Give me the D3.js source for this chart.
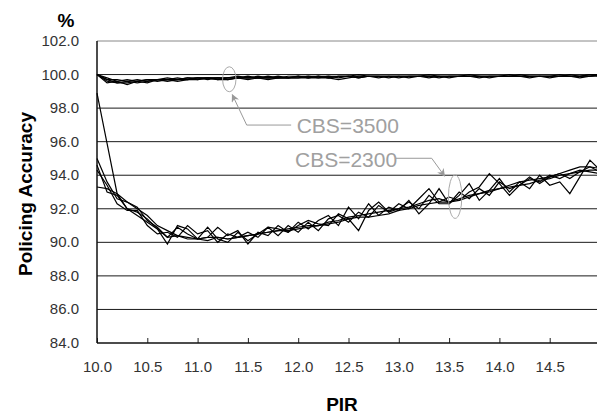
<!DOCTYPE html>
<html>
<head>
<meta charset="utf-8">
<script src="https://cdn.jsdelivr.net/npm/d3@7"></script>
<style>
  html, body { margin: 0; padding: 0; background: #fff; }
  svg { display: block; }
  text { font-family: "Liberation Sans", Arial, sans-serif; }
</style>
</head>
<body>
<svg id="chart" width="597" height="414"></svg>
<script>
// PIR categories (x)
const pir = [
  10.0, 10.1, 10.2, 10.3, 10.4, 10.5, 10.6, 10.7, 10.8, 10.9,
  11.0, 11.1, 11.2, 11.3, 11.4, 11.5, 11.6, 11.7, 11.8, 11.9,
  12.0, 12.1, 12.2, 12.3, 12.4, 12.5, 12.6, 12.7, 12.8, 12.9,
  13.0, 13.1, 13.2, 13.3, 13.4, 13.5, 13.6, 13.7, 13.8, 13.9,
  14.0, 14.1, 14.2, 14.3, 14.4, 14.5, 14.6, 14.7, 14.8, 14.9,
  15.0
];

// CBS=3500 runs
const cbs3500a = [
  100.0, 99.7, 99.5, 99.6, 99.5, 99.6, 99.7, 99.6, 99.7, 99.7,
  99.7, 99.8, 99.7, 99.7, 99.8, 99.8, 99.8, 99.7, 99.8, 99.8,
  99.8, 99.9, 99.8, 99.8, 99.9, 99.9, 99.8, 99.9, 99.9, 99.9,
  99.9, 99.9, 99.9, 99.9, 99.9, 99.9, 99.9, 99.9, 99.9, 99.9,
  99.9, 99.9, 99.9, 99.9, 99.9, 99.9, 99.9, 99.9, 99.9, 100.0,
  99.9
];
const cbs3500b = [
  100.0, 99.5, 99.6, 99.4, 99.6, 99.5, 99.7, 99.7, 99.6, 99.7,
  99.8, 99.7, 99.8, 99.7, 99.8, 99.7, 99.8, 99.8, 99.9, 99.8,
  99.8, 99.8, 99.9, 99.8, 99.7, 99.8, 99.9, 99.9, 99.8, 99.9,
  99.9, 99.8, 99.9, 99.9, 99.9, 99.8, 99.9, 99.9, 99.9, 99.8,
  99.9, 99.9, 99.9, 99.8, 99.9, 99.9, 99.9, 99.9, 99.8, 99.9,
  100.0
];
const cbs3500c = [
  100.0, 99.6, 99.5, 99.5, 99.6, 99.7, 99.6, 99.7, 99.8, 99.7,
  99.8, 99.8, 99.7, 99.8, 99.8, 99.9, 99.8, 99.8, 99.8, 99.9,
  99.9, 99.8, 99.9, 99.9, 99.9, 99.9, 100.0, 99.9, 99.9, 99.9,
  99.9, 99.9, 99.9, 100.0, 99.9, 99.9, 99.9, 100.0, 99.9, 99.9,
  99.9, 100.0, 99.9, 99.9, 99.9, 99.9, 100.0, 99.9, 99.9, 99.9,
  100.0
];
const cbs3500d = [
  100.0, 99.8, 99.6, 99.7, 99.6, 99.7, 99.7, 99.8, 99.7, 99.8,
  99.8, 99.8, 99.8, 99.8, 99.9, 99.8, 99.8, 99.9, 99.8, 99.8,
  99.9, 99.9, 99.9, 99.8, 99.9, 99.9, 99.9, 99.9, 99.9, 99.8,
  99.9, 99.9, 99.9, 99.9, 99.8, 99.9, 99.9, 99.9, 99.9, 99.9,
  99.9, 99.9, 100.0, 99.9, 99.9, 99.9, 99.9, 100.0, 99.9, 100.0,
  100.0
];
const cbs3500e = [
  100.0, 99.7, 99.7, 99.6, 99.7, 99.6, 99.7, 99.7, 99.7, 99.8,
  99.7, 99.8, 99.8, 99.8, 99.8, 99.8, 99.9, 99.8, 99.8, 99.8,
  99.9, 99.8, 99.8, 99.9, 99.8, 99.9, 99.8, 99.9, 99.9, 99.9,
  99.8, 99.9, 99.9, 99.8, 99.9, 99.9, 99.9, 99.9, 99.8, 99.9,
  99.9, 99.9, 99.9, 99.9, 99.9, 99.8, 99.9, 99.9, 99.9, 99.9,
  99.9
];

// CBS=2300 runs
const cbs2300a = [
  98.9, 95.9, 92.9, 92.0, 91.6, 91.2, 90.8, 90.3, 90.4, 90.3,
  90.2, 90.1, 90.3, 90.2, 90.3, 90.4, 90.5, 90.6, 90.7, 90.8,
  90.9, 91.0, 91.0, 91.2, 91.3, 91.5, 91.6, 91.7, 91.8, 91.9,
  92.0, 92.1, 92.3, 92.5, 92.6, 92.4, 92.5, 92.7, 92.9, 93.1,
  93.2, 93.3, 93.4, 93.5, 93.7, 93.8, 94.0, 94.1, 94.2, 94.3,
  94.3
];
const cbs2300b = [
  95.0, 93.6, 92.6, 92.4, 92.1, 91.3, 90.9, 90.3, 90.9, 90.5,
  90.2, 90.9, 90.2, 90.0, 90.6, 90.1, 90.5, 90.9, 90.4, 91.0,
  90.6, 91.2, 90.7, 91.4, 91.6, 91.2, 91.8, 91.5, 92.2, 91.8,
  92.0, 92.4, 92.0, 92.8, 92.3, 92.3, 93.0, 92.6, 93.2, 92.8,
  93.6, 93.2, 93.4, 93.9, 93.5, 93.9, 94.1, 93.8, 94.2, 94.5,
  94.2
];
const cbs2300c = [
  94.6, 93.0, 92.8, 92.0, 91.8, 91.4, 90.8, 89.9, 91.0, 90.8,
  90.2, 90.3, 90.9, 90.4, 90.7, 89.9, 90.6, 90.4, 91.0, 90.6,
  91.2, 90.8, 91.3, 91.6, 91.0, 92.1, 91.4, 92.3, 91.6, 92.1,
  91.9, 92.5, 91.7, 92.3, 93.2, 92.3, 92.8, 93.5, 92.5, 93.1,
  93.8, 93.0, 93.6, 93.2, 94.0, 93.4, 93.6, 92.9, 93.9, 94.9,
  94.3
];
const cbs2300d = [
  94.3, 93.4, 92.3, 91.9, 91.9, 91.0, 90.5, 90.6, 90.3, 91.0,
  90.5, 90.7, 90.0, 90.5, 90.3, 90.6, 90.3, 90.9, 90.8, 90.6,
  91.0, 91.3, 91.1, 91.0, 91.7, 91.4, 90.7, 91.9, 92.4, 91.8,
  92.3, 92.0, 92.6, 93.2, 92.4, 92.7, 92.5, 93.0, 93.3, 94.1,
  93.5, 92.8, 93.4, 93.8, 93.6, 94.0, 93.8, 94.1, 94.3, 94.2,
  94.1
];
const cbs2300e = [
  93.3, 93.2, 92.9, 92.4, 92.0, 91.6, 91.0, 90.7, 90.4, 90.2,
  90.2, 90.3, 90.3, 90.2, 90.3, 90.4, 90.5, 90.6, 90.7, 90.7,
  90.8, 90.9, 91.0, 91.1, 91.2, 91.4, 91.5, 91.5, 91.6, 91.7,
  91.9, 92.0, 92.2, 92.3, 92.4, 92.4, 92.6, 92.8, 92.9, 93.0,
  93.2, 93.4, 93.6, 93.7, 93.8, 93.9, 94.1, 94.3, 94.5, 94.5,
  94.4
];

const seriesList = [
  cbs3500a, cbs3500b, cbs3500c, cbs3500d, cbs3500e,
  cbs2300a, cbs2300b, cbs2300c, cbs2300d, cbs2300e
];

const yTicks = [84, 86, 88, 90, 92, 94, 96, 98, 100, 102];
const xTicks = [10.0, 10.5, 11.0, 11.5, 12.0, 12.5, 13.0, 13.5, 14.0, 14.5];

// annotations: label, text anchor (data units), leader path, ellipse
const notes = [
  { label: 'CBS=3500', tx: 11.985, ty: 96.53,
    path: [[11.93, 96.99], [11.488, 96.99], [11.345, 98.8]],
    ex: 11.315, ey: 99.72, rx: 6.7, ry: 12.5 },
  { label: 'CBS=2300', tx: 11.968, ty: 94.47,
    path: [[12.972, 95.01], [13.327, 95.01], [13.455, 93.95]],
    ex: 13.56, ey: 92.72, rx: 6.7, ry: 21.7 }
];

const svg = d3.select('#chart');
const plotL = 97, plotR = 600, plotT = 41, plotB = 343;

const x = d3.scaleLinear().domain([10, 15]).range([plotL, plotR]);
const y = d3.scaleLinear().domain([84, 102]).range([plotB, plotT]);

// gridlines
svg.append('g')
  .selectAll('line')
  .data(yTicks.filter((d) => d > 84))
  .join('line')
  .attr('x1', plotL)
  .attr('x2', plotR)
  .attr('y1', (d) => y(d))
  .attr('y2', (d) => y(d))
  .attr('stroke', (d) => d === 102 ? '#888' : '#1a1a1a')
  .attr('stroke-width', 1);

// y axis labels
svg.append('g')
  .selectAll('text')
  .data(yTicks)
  .join('text')
  .attr('x', 79)
  .attr('y', (d) => y(d) + 5)
  .attr('text-anchor', 'end')
  .attr('font-size', 15)
  .attr('fill', '#333')
  .text((d) => d.toFixed(1));

// x axis: ticks inside, labels below
const xAxis = d3.axisBottom(x)
  .tickValues(xTicks)
  .tickSize(-5)
  .tickFormat((d) => d.toFixed(1));
const gx = svg.append('g')
  .attr('transform', `translate(0,${plotB})`)
  .call(xAxis);
gx.select('.domain').remove();
gx.selectAll('.tick line').attr('stroke', '#222');
gx.selectAll('.tick text')
  .attr('y', 29)
  .attr('dy', 0)
  .attr('font-size', 15)
  .attr('font-family', '"Liberation Sans", Arial, sans-serif')
  .attr('fill', '#333');

// axis lines
svg.append('line')
  .attr('x1', plotL).attr('x2', plotR)
  .attr('y1', plotB).attr('y2', plotB)
  .attr('stroke', '#111').attr('stroke-width', 1.5);
svg.append('line')
  .attr('x1', plotL).attr('x2', plotL)
  .attr('y1', plotT).attr('y2', plotB)
  .attr('stroke', '#111').attr('stroke-width', 1.5);

// series
const line = d3.line()
  .x((d, i) => x(pir[i]))
  .y((d) => y(d));

svg.append('g')
  .selectAll('path')
  .data(seriesList)
  .join('path')
  .attr('d', line)
  .attr('fill', 'none')
  .attr('stroke', '#000')
  .attr('stroke-width', 1.2)
  .attr('stroke-linejoin', 'miter');

// annotations
svg.append('defs').append('marker')
  .attr('id', 'arrow')
  .attr('viewBox', '0 0 10 10')
  .attr('refX', 9)
  .attr('refY', 5)
  .attr('markerWidth', 8)
  .attr('markerHeight', 8)
  .attr('orient', 'auto')
  .append('path')
  .attr('d', 'M0,0 L10,5 L0,10 L3,5 Z')
  .attr('fill', '#999');

const ann = svg.append('g');
for (const n of notes) {
  ann.append('ellipse')
    .attr('cx', x(n.ex))
    .attr('cy', y(n.ey))
    .attr('rx', n.rx)
    .attr('ry', n.ry)
    .attr('fill', 'none')
    .attr('stroke', '#aaa')
    .attr('stroke-width', 1);
  ann.append('path')
    .attr('d', d3.line()(n.path.map((p) => [x(p[0]), y(p[1])])))
    .attr('fill', 'none')
    .attr('stroke', '#999')
    .attr('stroke-width', 1)
    .attr('marker-end', 'url(#arrow)');
  ann.append('text')
    .attr('x', x(n.tx))
    .attr('y', y(n.ty))
    .attr('font-size', 21)
    .attr('fill', '#a0a0a0')
    .text(n.label);
}

// titles
svg.append('text')
  .attr('x', 66)
  .attr('y', 27)
  .attr('text-anchor', 'middle')
  .attr('font-size', 19)
  .attr('font-weight', 'bold')
  .text('%');

svg.append('text')
  .attr('transform', 'translate(32,194) rotate(-90)')
  .attr('text-anchor', 'middle')
  .attr('font-size', 19)
  .attr('font-weight', 'bold')
  .text('Policing Accuracy');

svg.append('text')
  .attr('x', 342)
  .attr('y', 411)
  .attr('text-anchor', 'middle')
  .attr('font-size', 19)
  .attr('font-weight', 'bold')
  .text('PIR');
</script>
</body>
</html>
